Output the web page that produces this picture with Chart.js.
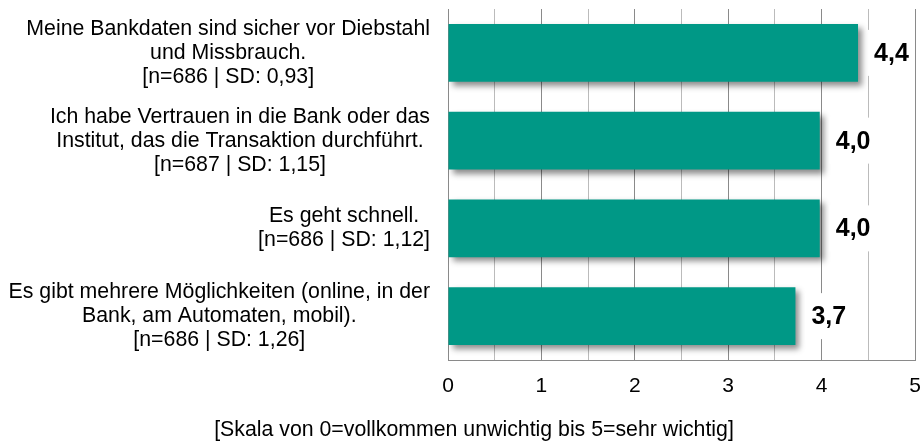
<!DOCTYPE html>
<html>
<head>
<meta charset="utf-8">
<script src="https://cdn.jsdelivr.net/npm/chart.js@4"></script>
<style>
  html, body { margin: 0; padding: 0; background: #fff; }
  #wrap { width: 921px; height: 442px; }
</style>
</head>
<body>
<div id="wrap"><canvas id="chart" width="921" height="442"></canvas></div>
<script>
// statements (each entry = lines of the left label)
const categories = [
  ["Meine Bankdaten sind sicher vor Diebstahl", "und Missbrauch.", "[n=686 | SD: 0,93]"],
  ["Ich habe Vertrauen in die Bank oder das", "Institut, das die Transaktion durchführt.", "[n=687 | SD: 1,15]"],
  ["Es geht schnell.", "[n=686 | SD: 1,12]"],
  ["Es gibt mehrere Möglichkeiten (online, in der", "Bank, am Automaten, mobil).", "[n=686 | SD: 1,26]"],
];
// mean ratings
const means = [4.39, 3.98, 3.98, 3.72];
const xTicks = [0, 1, 2, 3, 4, 5];
const axisTitle = "[Skala von 0=vollkommen unwichtig bis 5=sehr wichtig]";

const BAR_COLOR = "#009886";
const FONT = "'Liberation Sans', Arial, sans-serif";

const fmt = (v) => v.toFixed(1).replace(".", ",");

// shadow under bars
const barShadow = {
  id: "barShadow",
  beforeDatasetsDraw(chart) {
    const ctx = chart.ctx;
    ctx.save();
    ctx.shadowColor = "rgba(0,0,0,0.45)";
    ctx.shadowBlur = 6;
    ctx.shadowOffsetX = 4;
    ctx.shadowOffsetY = 4;
  },
  afterDatasetsDraw(chart) {
    chart.ctx.restore();
  },
};

// value labels + left category labels + bottom title
const textLayer = {
  id: "textLayer",
  afterDraw(chart) {
    const ctx = chart.ctx;
    const yScale = chart.scales.y;
    const meta = chart.getDatasetMeta(0);

    // value labels with white box
    ctx.save();
    ctx.font = "bold 25px " + FONT;
    ctx.textBaseline = "middle";
    ctx.textAlign = "left";
    meta.data.forEach((bar, i) => {
      const txt = fmt(means[i]);
      const w = ctx.measureText(txt).width;
      const x = bar.x + 16;
      ctx.fillStyle = "#fff";
      ctx.fillRect(x - 6, bar.y - 23, w + 12, 46);
      ctx.fillStyle = "#000";
      ctx.fillText(txt, x, bar.y + 1);
    });
    ctx.restore();

    // category labels, each block centred on its longest line, right edge at 430
    ctx.save();
    ctx.font = "21.3px " + FONT;
    ctx.fillStyle = "#000";
    ctx.textAlign = "center";
    ctx.textBaseline = "middle";
    const lineH = 24;
    const right = 430;
    categories.forEach((lines, i) => {
      const cy = yScale.getPixelForTick(i);
      const maxW = Math.max(...lines.map((l) => ctx.measureText(l).width));
      const cx = right - maxW / 2;
      const y0 = cy - ((lines.length - 1) * lineH) / 2;
      lines.forEach((l, k) => ctx.fillText(l, cx, y0 + k * lineH));
    });

    // bottom title
    ctx.textBaseline = "alphabetic";
    ctx.fillText(axisTitle, 474, 436);
    ctx.restore();
  },
};

new Chart(document.getElementById("chart"), {
  type: "bar",
  data: {
    labels: categories,
    datasets: [
      {
        data: means,
        backgroundColor: BAR_COLOR,
        borderWidth: 0,
        categoryPercentage: 1,
        barPercentage: 0.66,
      },
    ],
  },
  options: {
    indexAxis: "y",
    responsive: false,
    animation: false,
    devicePixelRatio: 1,
    layout: { padding: { top: 9, right: 6, bottom: 42, left: 0 } },
    plugins: {
      legend: { display: false },
      tooltip: { enabled: false },
    },
    scales: {
      x: {
        min: 0,
        max: 5,
        afterBuildTicks(scale) {
          // half-step gridlines, labels only at whole numbers
          const t = [];
          xTicks.forEach((v, i) => {
            t.push({ value: v });
            if (i < xTicks.length - 1) t.push({ value: v + 0.5 });
          });
          scale.ticks = t;
        },
        afterFit(scale) {
          scale.height = 40;
          scale.paddingLeft = 0;
          scale.paddingRight = 0;
        },
        grid: {
          drawTicks: false,
          lineWidth: 1,
          color: (c) => (c.tick && Number.isInteger(c.tick.value) ? "#8a8a8a" : "#bbbbbb"),
        },
        border: { display: true, color: "#8a8a8a" },
        ticks: {
          autoSkip: false,
          maxRotation: 0,
          padding: 14,
          color: "#000",
          font: { size: 21, family: FONT },
          callback: (v) => (Number.isInteger(v) ? String(v) : ""),
        },
      },
      y: {
        afterFit(scale) {
          scale.width = 448;
        },
        grid: { display: false },
        border: { display: false },
        ticks: { display: false },
      },
    },
  },
  plugins: [barShadow, textLayer],
});
</script>
</body>
</html>
